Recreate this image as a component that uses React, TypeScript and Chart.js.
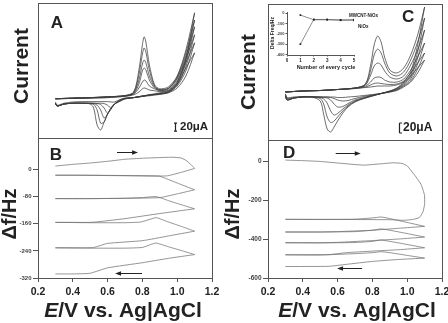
import { useEffect, useRef } from "react";
import { Chart, registerables } from "chart.js";

Chart.register(...registerables);

const FONT = '"Liberation Sans", Arial, Helvetica, sans-serif';
const INK = "#222222";
const AXIS = "#555555";
const CV_LINE = "#3c3c3c";
const QCM_LINE = "#707070";

// ---------- axis ticks ----------
const potentialTicks = [0.2, 0.4, 0.6, 0.8, 1.0, 1.2];
const freqTicksB = [0, -80, -160, -240, -320];
const freqTicksD = [0, -200, -400, -600];
const insetFreqTicks = [0, -100, -200, -300, -400];
const insetCycleTicks = [0, 1, 2, 3, 4, 5];

// ---------- Panel A: CV, MWCNT-NiOx (current, μA) ----------
const cvA_forwardE = [0.3, 0.4, 0.5, 0.6, 0.7, 0.75, 0.78, 0.8, 0.81, 0.82, 0.84, 0.87, 0.9, 0.95, 1.0, 1.05, 1.1];
const cvA_reverseE = [1.1, 1.05, 1.0, 0.95, 0.9, 0.85, 0.8, 0.75, 0.7, 0.67, 0.64, 0.62, 0.6, 0.58, 0.56, 0.54, 0.52, 0.5, 0.45, 0.4, 0.35, 0.31, 0.3];
const cvA_forward = [
  [3, 4, 5, 6, 9, 13, 20, 28, 30, 29, 25, 23, 21, 23, 40, 80, 118],
  [3, 4, 5, 6, 10, 15, 30, 45, 50, 48, 35, 28, 23, 25, 48, 93, 143],
  [3, 4, 5, 8, 10, 16, 40, 73, 80, 75, 50, 30, 24, 28, 53, 103, 163],
  [3, 5, 6, 8, 11, 18, 50, 90, 100, 93, 60, 33, 25, 29, 55, 110, 183],
  [3, 5, 6, 8, 11, 19, 63, 115, 130, 120, 75, 35, 26, 30, 58, 118, 200],
  [3, 5, 6, 8, 11, 20, 75, 138, 158, 145, 88, 38, 28, 33, 60, 125, 218],
];
const cvA_reverse = [
  [118, 60, 30, 18, 14, 11, 9, 6, 5, 1, -5, -5, -4, -4, -4, -4, -4, -4, -4, -5, -8, -13, -5],
  [143, 73, 35, 19, 15, 13, 9, 6, 4, 0, -10, -20, -13, -9, -8, -8, -8, -8, -8, -8, -10, -15, -8],
  [163, 83, 38, 20, 15, 13, 9, 6, 4, -1, -10, -23, -33, -20, -11, -9, -8, -8, -8, -8, -10, -15, -8],
  [183, 93, 40, 20, 16, 13, 10, 6, 3, -3, -10, -20, -35, -45, -25, -13, -9, -8, -8, -8, -10, -15, -8],
  [200, 100, 43, 21, 16, 13, 10, 6, 3, -3, -10, -20, -35, -55, -58, -25, -11, -9, -8, -8, -10, -15, -8],
  [218, 105, 45, 23, 18, 14, 10, 6, 3, -3, -10, -20, -35, -55, -75, -63, -20, -10, -8, -8, -10, -15, -8],
];

// ---------- Panel C: CV, NiOx (current, μA) ----------
const cvC_forwardE = [0.3, 0.4, 0.5, 0.6, 0.7, 0.76, 0.79, 0.81, 0.83, 0.85, 0.87, 0.9, 0.94, 0.98, 1.02, 1.06, 1.1];
const cvC_reverseE = [1.1, 1.06, 1.02, 0.98, 0.94, 0.9, 0.85, 0.8, 0.75, 0.7, 0.66, 0.63, 0.6, 0.58, 0.56, 0.54, 0.52, 0.5, 0.45, 0.4, 0.35, 0.31, 0.3];
const cvC_forward = [
  [0, 2, 3, 5, 7, 9, 10, 11, 12, 12, 12, 12, 14, 20, 32, 48, 64],
  [0, 2, 3, 5, 7, 10, 14, 17, 18, 17, 16, 15, 16, 22, 38, 58, 78],
  [0, 2, 3, 5, 8, 12, 20, 28, 30, 29, 24, 20, 20, 26, 44, 70, 98],
  [0, 2, 3, 5, 8, 14, 34, 52, 58, 54, 42, 30, 26, 32, 54, 84, 124],
  [0, 2, 3, 5, 8, 15, 44, 74, 86, 78, 58, 38, 32, 40, 64, 100, 148],
  [0, 2, 3, 5, 8, 16, 54, 94, 112, 100, 70, 44, 38, 48, 74, 114, 170],
];
const cvC_reverse = [
  [64, 38, 20, 10, 3, 0, -3, -5, -7, -9, -10, -11, -11, -10, -10, -10, -10, -10, -9, -9, -10, -11, -4],
  [78, 46, 22, 12, 4, 0, -3, -6, -9, -13, -17, -18, -16, -13, -11, -10, -10, -10, -10, -10, -11, -13, -4],
  [98, 56, 26, 14, 5, 1, -3, -7, -11, -16, -23, -29, -30, -24, -16, -12, -11, -10, -10, -10, -12, -14, -6],
  [124, 68, 30, 16, 6, 1, -3, -7, -12, -18, -26, -34, -43, -46, -38, -22, -14, -11, -10, -10, -12, -16, -8],
  [148, 80, 34, 18, 7, 2, -3, -8, -13, -19, -28, -38, -50, -58, -61, -50, -24, -13, -10, -10, -12, -16, -8],
  [170, 94, 40, 20, 8, 2, -3, -8, -13, -20, -30, -42, -58, -70, -80, -74, -45, -18, -10, -10, -12, -16, -8],
];

// ---------- Panel B: QCM Δf, MWCNT-NiOx (Hz) ----------
const qcmB_fwdE = [
  [0.3, 0.4, 0.5, 0.6, 0.7, 0.8, 0.9, 0.97, 1.02, 1.05, 1.08, 1.1],
  [0.3, 0.5, 0.7, 0.85, 0.9, 1.0, 1.1],
  [0.3, 0.5, 0.7, 0.8, 0.88, 0.95, 1.03, 1.1],
  [0.3, 0.5, 0.7, 0.79, 0.85, 0.88, 0.95, 1.03, 1.1],
  [0.3, 0.5, 0.7, 0.8, 0.85, 0.88, 0.95, 1.03, 1.1],
];
const qcmB_fwdHz = [
  [10, 15, 19, 24, 30, 33, 35, 36, 34, 27, 14, 3],
  [-17, -17, -18, -19, -20, -40, -60],
  [-86, -86, -85, -83, -80, -92, -105, -116],
  [-156, -157, -157, -155, -146, -142, -155, -169, -182],
  [-231, -232, -232, -230, -221, -217, -228, -240, -251],
];
const qcmB_revE = [
  [1.1, 1.02, 0.94, 0.8, 0.6, 0.4, 0.3],
  [1.1, 1.0, 0.9, 0.7, 0.5, 0.3],
  [1.1, 0.9, 0.7, 0.55, 0.5, 0.4, 0.3],
  [1.1, 0.95, 0.8, 0.6, 0.52, 0.45, 0.3],
  [1.1, 0.95, 0.8, 0.6, 0.5, 0.4, 0.3],
];
const qcmB_revHz = [
  [3, -9, -19, -19, -18, -17, -17],
  [-60, -72, -83, -85, -86, -86],
  [-116, -130, -145, -154, -156, -156, -156],
  [-182, -196, -210, -218, -230, -231, -231],
  [-251, -262, -275, -290, -306, -308, -308],
];

// ---------- Panel D: QCM Δf, NiOx (Hz) ----------
const qcmD_fwdE = [
  [0.3, 0.4, 0.5, 0.6, 0.75, 0.85, 0.92, 0.97, 1.0, 1.02, 1.05, 1.08, 1.1],
  [0.3, 0.5, 0.7, 0.8, 0.85, 0.9, 1.0, 1.1],
  [0.3, 0.5, 0.7, 0.8, 0.85, 0.9, 1.0, 1.1],
  [0.3, 0.5, 0.7, 0.8, 0.85, 0.9, 1.0, 1.1],
  [0.3, 0.5, 0.7, 0.8, 0.85, 0.9, 1.0, 1.1],
];
const qcmD_fwdHz = [
  [5, 2, -2, -10, -21, -14, -9, -12, -25, -46, -81, -120, -175],
  [-299, -300, -298, -292, -287, -295, -315, -335],
  [-364, -364, -362, -355, -348, -355, -372, -390],
  [-419, -420, -418, -412, -405, -412, -428, -445],
  [-481, -482, -475, -470, -465, -470, -484, -498],
];
const qcmD_revE = [
  [1.1, 1.1, 1.09, 1.07, 1.03, 0.98, 0.9, 0.7, 0.5, 0.3],
  [1.1, 0.95, 0.8, 0.6, 0.5, 0.3],
  [1.1, 0.95, 0.8, 0.6, 0.5, 0.3],
  [1.1, 0.95, 0.8, 0.65, 0.55, 0.3],
  [1.1, 0.95, 0.8, 0.65, 0.55, 0.3],
];
const qcmD_revHz = [
  [-175, -222, -262, -290, -300, -304, -301, -300, -299, -299],
  [-335, -345, -355, -362, -364, -364],
  [-390, -400, -408, -417, -419, -419],
  [-445, -455, -462, -470, -480, -481],
  [-498, -505, -515, -530, -540, -541],
];

// ---------- Inset: Δf per cycle ----------
const insetCycles = [1, 2, 3, 4, 5];
const insetMWCNT = [-20, -65, -65, -70, -70];
const insetNiOx = [-300, -62, -62, -66, -64];

// ---------- helpers ----------
type Pt = { x: number; y: number };
function pts(xs: number[], ys: number[]): Pt[] {
  return xs.map((x, i) => ({ x, y: ys[i] }));
}
function loops(fE: number[][] | number[], fV: number[][], rE: number[][] | number[], rV: number[][]) {
  return fV.map((fv, k) => {
    const fe = (Array.isArray(fE[0]) ? (fE as number[][])[k] : (fE as number[])) as number[];
    const re = (Array.isArray(rE[0]) ? (rE as number[][])[k] : (rE as number[])) as number[];
    return [...pts(fe, fv), ...pts(re, rV[k])];
  });
}

type Part = { t: string; italic?: boolean };
type TextItem = { parts: Part[]; x: number; y: number; size: number; rotate?: boolean; align?: "left" | "center"; data?: boolean; weight?: string };
type Arrow = { x1: number; x2: number; y: number };
type Bar = { x: number; y1: number; y2: number; cap: "I" | "[" };
type Deco = { frame?: boolean; texts?: TextItem[]; arrows?: Arrow[]; bars?: Bar[] };

function decoPlugin(d: Deco) {
  return {
    id: "deco",
    afterDraw(chart: any) {
      const ctx: CanvasRenderingContext2D = chart.ctx;
      const { left, right, top, bottom } = chart.chartArea;
      const xs = chart.scales.x;
      const ys = chart.scales.y;
      ctx.save();
      if (d.frame) {
        ctx.strokeStyle = AXIS;
        ctx.lineWidth = 1;
        const l = Math.round(left), t = Math.round(top), r = Math.round(right), b = Math.round(bottom);
        ctx.strokeRect(l + 0.5, t + 0.5, r - l, b - t);
      }
      (d.bars || []).forEach((bar) => {
        const x = Math.round(xs.getPixelForValue(bar.x)) + 0.5;
        const y1 = ys.getPixelForValue(bar.y1);
        const y2 = ys.getPixelForValue(bar.y2);
        ctx.strokeStyle = INK;
        ctx.lineWidth = 1.2;
        ctx.beginPath();
        ctx.moveTo(x, y1);
        ctx.lineTo(x, y2);
        if (bar.cap === "I") {
          ctx.moveTo(x - 1.5, y1); ctx.lineTo(x + 1.5, y1);
          ctx.moveTo(x - 1.5, y2); ctx.lineTo(x + 1.5, y2);
        } else {
          ctx.moveTo(x, y1); ctx.lineTo(x + 2.5, y1);
          ctx.moveTo(x, y2); ctx.lineTo(x + 2.5, y2);
        }
        ctx.stroke();
      });
      (d.arrows || []).forEach((a) => {
        const x1 = xs.getPixelForValue(a.x1);
        const x2 = xs.getPixelForValue(a.x2);
        const y = Math.round(ys.getPixelForValue(a.y)) + 0.5;
        const dir = x2 > x1 ? 1 : -1;
        ctx.strokeStyle = INK;
        ctx.fillStyle = INK;
        ctx.lineWidth = 1;
        ctx.beginPath();
        ctx.moveTo(x1, y);
        ctx.lineTo(x2 - dir * 4, y);
        ctx.stroke();
        ctx.beginPath();
        ctx.moveTo(x2, y);
        ctx.lineTo(x2 - dir * 6, y - 2.3);
        ctx.lineTo(x2 - dir * 6, y + 2.3);
        ctx.closePath();
        ctx.fill();
      });
      (d.texts || []).forEach((it) => {
        const px = it.data ? xs.getPixelForValue(it.x) : it.x;
        const py = it.data ? ys.getPixelForValue(it.y) : it.y;
        ctx.save();
        ctx.translate(px, py);
        if (it.rotate) ctx.rotate(-Math.PI / 2);
        ctx.textBaseline = "middle";
        ctx.textAlign = "left";
        ctx.fillStyle = INK;
        const fontFor = (p: Part) => `${p.italic ? "italic " : ""}${it.weight || "bold"} ${it.size}px ${FONT}`;
        let total = 0;
        const widths = it.parts.map((p) => {
          ctx.font = fontFor(p);
          const w = ctx.measureText(p.t).width;
          total += w;
          return w;
        });
        let cx = it.align === "left" ? 0 : -total / 2;
        it.parts.forEach((p, i) => {
          ctx.font = fontFor(p);
          ctx.fillText(p.t, cx, 0);
          cx += widths[i];
        });
        ctx.restore();
      });
      ctx.restore();
    },
  };
}

function baseOptions(padding: any, scales: any) {
  return {
    responsive: false,
    animation: false,
    events: [],
    layout: { padding },
    plugins: { legend: { display: false }, tooltip: { enabled: false }, title: { display: false } },
    elements: { point: { radius: 0 } },
    scales,
  };
}

function fixedTicks(values: number[]) {
  return (scale: any) => {
    scale.ticks = values.map((value) => ({ value }));
  };
}

function xAxis(min: number, max: number, height: number, ticks: number[], size: number, tickLen: number, pad: number, fmt: (v: number) => string) {
  return {
    type: "linear",
    min,
    max,
    afterBuildTicks: fixedTicks(ticks),
    afterFit: (s: any) => {
      s.height = height;
      s.paddingLeft = 0;
      s.paddingRight = 0;
    },
    grid: { drawOnChartArea: false, drawTicks: true, tickLength: tickLen, color: AXIS, lineWidth: 1 },
    border: { display: true, color: AXIS, width: 1 },
    ticks: { autoSkip: false, maxRotation: 0, minRotation: 0, padding: pad, color: INK, font: { family: FONT, size, weight: "bold" }, callback: (v: any) => fmt(Number(v)) },
  };
}

function yAxis(min: number, max: number, width: number, ticks: number[], size: number, tickLen: number, pad: number) {
  return {
    type: "linear",
    min,
    max,
    afterBuildTicks: fixedTicks(ticks),
    afterFit: (s: any) => {
      s.width = width;
      s.paddingTop = 0;
      s.paddingBottom = 0;
    },
    grid: { drawOnChartArea: false, drawTicks: true, tickLength: tickLen, color: AXIS, lineWidth: 1 },
    border: { display: true, color: AXIS, width: 1 },
    ticks: { autoSkip: false, padding: pad, color: "#444444", font: { family: FONT, size, weight: "bold" }, callback: (v: any) => String(Number(v)) },
  };
}

function lineSets(loopsData: Pt[][], color: string, width: number, tension: number) {
  return loopsData.map((data) => ({ data, borderColor: color, borderWidth: width, pointRadius: 0, tension, fill: false }));
}

const xTitle: Part[] = [{ t: "E", italic: true }, { t: "/V vs. Ag|AgCl" }];

export default function App() {
  const refA = useRef<HTMLCanvasElement>(null);
  const refB = useRef<HTMLCanvasElement>(null);
  const refC = useRef<HTMLCanvasElement>(null);
  const refD = useRef<HTMLCanvasElement>(null);
  const refI = useRef<HTMLCanvasElement>(null);

  useEffect(() => {
    const charts: Chart[] = [];
    const fmt1 = (v: number) => v.toFixed(1);
    const fmt0 = (v: number) => String(v);

    // Panel A
    charts.push(
      new Chart(refA.current as HTMLCanvasElement, {
        type: "line",
        data: { datasets: lineSets(loops(cvA_forwardE, cvA_forward, cvA_reverseE, cvA_reverse), CV_LINE, 0.75, 0.3) as any },
        options: baseOptions({ left: 38, right: 236, top: 3, bottom: 185 }, {
          x: { type: "linear", display: false, min: 0.2, max: 1.2 },
          y: { type: "linear", display: false, min: -95, max: 242.5 },
        }) as any,
        plugins: [
          decoPlugin({
            frame: true,
            texts: [
              { parts: [{ t: "Current" }], x: 22, y: 66, size: 21, rotate: true },
              { parts: [{ t: "A" }], x: 0.309, y: 192, size: 17, data: true },
              { parts: [{ t: "20μA" }], x: 1.016, y: -67, size: 11.5, data: true, align: "left" },
            ],
            bars: [{ x: 0.987, y1: -58, y2: -78, cap: "I" }],
          }) as any,
        ],
      })
    );

    // Panel B
    charts.push(
      new Chart(refB.current as HTMLCanvasElement, {
        type: "line",
        data: { datasets: lineSets(loops(qcmB_fwdE, qcmB_fwdHz, qcmB_revE, qcmB_revHz), QCM_LINE, 0.75, 0.15) as any },
        options: baseOptions({ left: 0, right: 236, top: 138, bottom: 0 }, {
          x: xAxis(0.2, 1.2, 45, potentialTicks, 10.5, 4, 4, fmt1),
          y: yAxis(-320, 92.7, 38, freqTicksB, 6, 5, 1.5),
        }) as any,
        plugins: [
          decoPlugin({
            frame: true,
            texts: [
              { parts: [{ t: "Δf/Hz" }], x: 10, y: 214, size: 20, rotate: true },
              { parts: xTitle, x: 123, y: 311, size: 21 },
              { parts: [{ t: "B" }], x: 0.303, y: 42, size: 17, data: true },
            ],
            arrows: [
              { x1: 0.654, x2: 0.775, y: 51 },
              { x1: 0.798, x2: 0.643, y: -305 },
            ],
          }) as any,
        ],
      })
    );

    // Panel C
    charts.push(
      new Chart(refC.current as HTMLCanvasElement, {
        type: "line",
        data: { datasets: lineSets(loops(cvC_forwardE, cvC_forward, cvC_reverseE, cvC_reverse), CV_LINE, 0.75, 0.3) as any },
        options: baseOptions({ left: 268, right: 6, top: 4, bottom: 183 }, {
          x: { type: "linear", display: false, min: 0.2, max: 1.2 },
          y: { type: "linear", display: false, min: -96, max: 176 },
        }) as any,
        plugins: [
          decoPlugin({
            frame: true,
            texts: [
              { parts: [{ t: "Current" }], x: 249, y: 72, size: 21, rotate: true },
              { parts: [{ t: "C" }], x: 1.005, y: 150, size: 17, data: true },
              { parts: [{ t: "20μA" }], x: 0.976, y: -72, size: 12, data: true, align: "left" },
            ],
            bars: [{ x: 0.955, y1: -62, y2: -82, cap: "[" }],
          }) as any,
        ],
      })
    );

    // Panel D
    charts.push(
      new Chart(refD.current as HTMLCanvasElement, {
        type: "line",
        data: { datasets: lineSets(loops(qcmD_fwdE, qcmD_fwdHz, qcmD_revE, qcmD_revHz), QCM_LINE, 0.75, 0.15) as any },
        options: baseOptions({ left: 0, right: 6, top: 140, bottom: 0 }, {
          x: xAxis(0.2, 1.2, 45, potentialTicks, 10.5, 4, 4, fmt1),
          y: yAxis(-600, 108, 268, freqTicksD, 6.5, 5, 1.5),
        }) as any,
        plugins: [
          decoPlugin({
            frame: true,
            texts: [
              { parts: [{ t: "Δf/Hz" }], x: 233, y: 214, size: 20, rotate: true },
              { parts: xTitle, x: 357, y: 311, size: 21 },
              { parts: [{ t: "D" }], x: 0.321, y: 41, size: 17, data: true },
            ],
            arrows: [
              { x1: 0.589, x2: 0.733, y: 41 },
              { x1: 0.741, x2: 0.597, y: -550 },
            ],
          }) as any,
        ],
      })
    );

    // Inset in C
    charts.push(
      new Chart(refI.current as HTMLCanvasElement, {
        type: "line",
        data: {
          datasets: [
            { data: pts(insetCycles, insetMWCNT), borderColor: "#444", borderWidth: 0.6, pointStyle: "rect", pointRadius: 1.2, pointBackgroundColor: "#222", pointBorderWidth: 0, tension: 0 },
            { data: pts(insetCycles, insetNiOx), borderColor: "#444", borderWidth: 0.6, pointStyle: "rect", pointRadius: 1.2, pointBackgroundColor: "#222", pointBorderWidth: 0, tension: 0 },
          ] as any,
        },
        options: baseOptions({ left: 0, right: 94, top: 12, bottom: 0 }, {
          x: xAxis(0, 5, 268, insetCycleTicks, 4.5, 1.5, 1.5, fmt0),
          y: yAxis(-405, 10, 287, insetFreqTicks, 4, 1.5, 1),
        }) as any,
        plugins: [
          decoPlugin({
            texts: [
              { parts: [{ t: "Delta Freq/Hz" }], x: 273, y: 33, size: 5, rotate: true },
              { parts: [{ t: "Number of every cycle" }], x: 326, y: 67, size: 5.5 },
              { parts: [{ t: "MWCNT-NiOx" }], x: 4.62, y: -25, size: 4.5, data: true, align: "left" },
              { parts: [{ t: "NiOx" }], x: 5.3, y: -132, size: 4.5, data: true, align: "left" },
            ],
          }) as any,
        ],
      })
    );

    return () => {
      charts.forEach((c) => c.destroy());
    };
  }, []);

  const cs: React.CSSProperties = { position: "absolute", left: 0, top: 0 };
  return (
    <div style={{ position: "fixed", left: 0, top: 0, width: 448, height: 323, background: "#ffffff", overflow: "hidden" }}>
      <canvas ref={refA} width={448} height={323} style={cs} />
      <canvas ref={refB} width={448} height={323} style={cs} />
      <canvas ref={refC} width={448} height={323} style={cs} />
      <canvas ref={refD} width={448} height={323} style={cs} />
      <canvas ref={refI} width={448} height={323} style={cs} />
    </div>
  );
}
